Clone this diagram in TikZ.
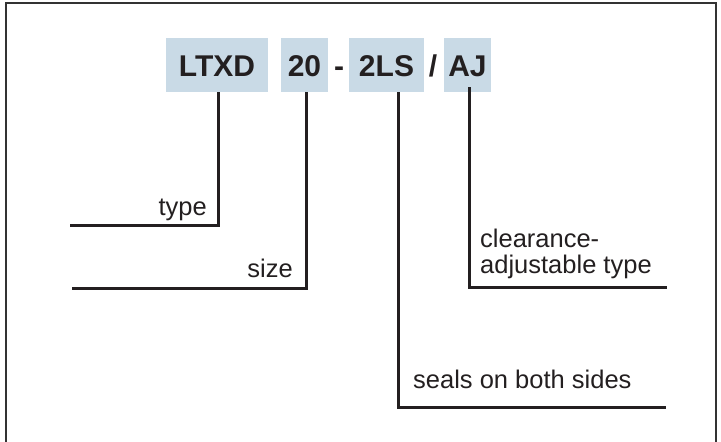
\documentclass[tikz,border=0pt]{standalone}
\usepackage{fontspec}
\setmainfont{Liberation Sans}
\usetikzlibrary{positioning}
\definecolor{codeblue}{RGB}{201,218,230}
\definecolor{leadblack}{RGB}{35,31,32}

\begin{document}
\begin{tikzpicture}[x=1pt,y=-1pt,
  codefont/.style={inner sep=0pt,text height=22pt,text depth=0pt,text=leadblack,
    font=\fontsize{30}{30}\selectfont\bfseries},
  codebox/.style={codefont,fill=codeblue,minimum height=54pt},
  lead/.style={line width=3pt,leadblack},
  note/.style={inner sep=0pt,text=leadblack,font=\fontsize{25.5}{26}\selectfont}]
\useasboundingbox (0,0) rectangle (721,442);
% frame, open at the bottom
\draw[line width=2pt,black!80] (6,442) |- (716,3) -- (716,442);

% the code
\node[codebox,minimum width=102pt] at (217,65) (LTXD) {LTXD};
\node[codebox,minimum width=47pt] at (304.5,65) (size) {20};
\node[codefont] at (339,65) (dash) {-};
\node[codebox,minimum width=75pt] at (386.5,65) (seals) {2LS};
\node[codefont] at (433,65) (slash) {/};
\node[codebox,minimum width=47pt] at (467.5,65) (adj) {AJ};

% ends of the leaders
\coordinate (typeend) at (70,225);
\coordinate (sizeend) at (72,288);
\coordinate (sealsend) at (666,407);
\coordinate (adjend) at (667,287);

\draw[lead] ([xshift=1pt]LTXD.south) |- (typeend);
\draw[lead] ([xshift=1.5pt]size.south) |- (sizeend);
\draw[lead] ([xshift=11.5pt]seals.south) |- (sealsend);
\draw[lead] ([xshift=1.5pt,yshift=5pt]adj.south) |- (adjend);

\node[note,anchor=base east] at (207,215) (typetext) {type};
\node[note,anchor=base east] at (293,277) (sizetext) {size};
% base of a two-line node is the base of its last line
\node[note,anchor=base west,align=left] at (480,273) (adjtext) {clearance-\\adjustable type};
\node[note,anchor=base west] at (413,388) (sealstext) {seals on both sides};
\end{tikzpicture}
\end{document}
